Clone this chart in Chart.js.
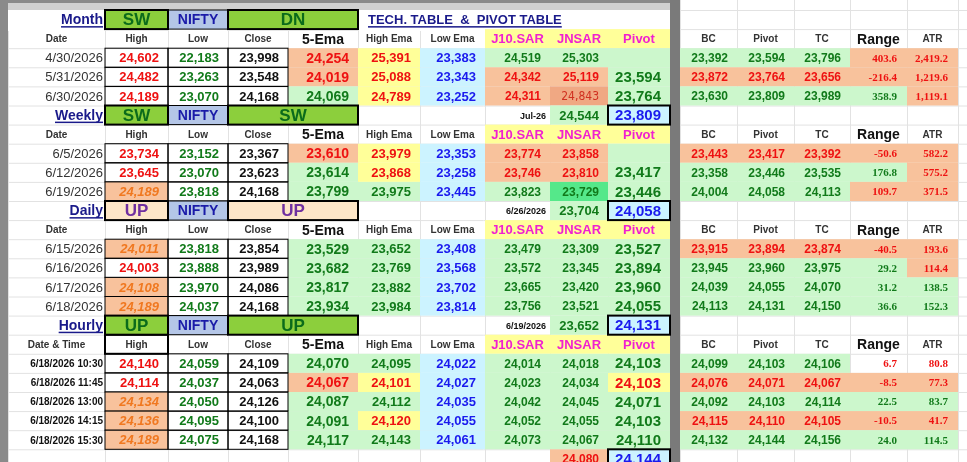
<!DOCTYPE html>
<html>
<head>
<meta charset="utf-8">
<script src="https://cdn.jsdelivr.net/npm/chart.js@4/dist/chart.umd.min.js"></script>
<style>
  html, body { margin: 0; padding: 0; background: #fff; }
  canvas { display: block; }
</style>
</head>
<body>
<canvas id="sheet" width="967" height="462"></canvas>
<script>
// column edges and row grid of the sheet (layout, in sheet units)
const colEdges = [8, 105, 168, 228, 288, 358, 420, 485, 550, 608, 670, 680, 737, 794, 850, 907, 958, 967];
const rowTop = 10, rowH = 19.1;

const headers = ['Date', 'High', 'Low', 'Close', '5-Ema', 'High Ema', 'Low Ema', 'J10.SAR', 'JNSAR', 'Pivot', '', 'BC', 'Pivot', 'TC', 'Range', 'ATR'];

// section banners: [row, label, trend, trendTag, side date, side value, pivot]
const sections = [
  [0, 'Month', 'SW', 'DN', '', '', ''],
  [5, 'Weekly', 'SW', 'SW', 'Jul-26', '24,544', '23,809'],
  [10, 'Daily', 'UP', 'UP', '6/26/2026', '23,704', '24,058'],
  [16, 'Hourly', 'UP', 'UP', '6/19/2026', '23,652', '24,131'],
];

const monthRows = [
  ['4/30/2026', '24,602', '22,183', '23,998', '24,254', '25,391', '23,383', '24,519', '25,303', '', '', '23,392', '23,594', '23,796', '403.6', '2,419.2'],
  ['5/31/2026', '24,482', '23,263', '23,548', '24,019', '25,088', '23,343', '24,342', '25,119', '23,594', '', '23,872', '23,764', '23,656', '-216.4', '1,219.6'],
  ['6/30/2026', '24,189', '23,070', '24,168', '24,069', '24,789', '23,252', '24,311', '24,843', '23,764', '', '23,630', '23,809', '23,989', '358.9', '1,119.1'],
];
const monthStyle = [
  ['k', 'r', 'g', 'k', 'ro', 'ry', 'bc', 'gl', 'gl', 'gl', '', 'gl', 'gl', 'gl', 'ro', 'ro'],
  ['k', 'r', 'g', 'k', 'ro', 'ry', 'bc', 'ro', 'ro', 'gl', '', 'ro', 'ro', 'ro', 'ro', 'ro'],
  ['k', 'r', 'g', 'k', 'gl', 'ry', 'bc', 'ro', 'dO', 'gl', '', 'gl', 'gl', 'gl', 'gl', 'ro'],
];

const weeklyRows = [
  ['6/5/2026', '23,734', '23,152', '23,367', '23,610', '23,979', '23,353', '23,774', '23,858', '', '', '23,443', '23,417', '23,392', '-50.6', '582.2'],
  ['6/12/2026', '23,645', '23,070', '23,623', '23,614', '23,868', '23,258', '23,746', '23,810', '23,417', '', '23,358', '23,446', '23,535', '176.8', '575.2'],
  ['6/19/2026', '24,189', '23,818', '24,168', '23,799', '23,975', '23,445', '23,823', '23,729', '23,446', '', '24,004', '24,058', '24,113', '109.7', '371.5'],
];
const weeklyStyle = [
  ['k', 'r', 'g', 'k', 'ro', 'ry', 'bc', 'ro', 'ro', 'gl', '', 'ro', 'ro', 'ro', 'ro', 'ro'],
  ['k', 'r', 'g', 'k', 'gl', 'ry', 'bc', 'ro', 'ro', 'gl', '', 'gl', 'gl', 'gl', 'gl', 'ro'],
  ['k', 'io', 'g', 'k', 'gl', 'gl', 'bc', 'gl', 'gG', 'gl', '', 'gl', 'gl', 'gl', 'ro', 'ro'],
];

const dailyRows = [
  ['6/15/2026', '24,011', '23,818', '23,854', '23,529', '23,652', '23,408', '23,479', '23,309', '23,527', '', '23,915', '23,894', '23,874', '-40.5', '193.6'],
  ['6/16/2026', '24,003', '23,888', '23,989', '23,682', '23,769', '23,568', '23,572', '23,345', '23,894', '', '23,945', '23,960', '23,975', '29.2', '114.4'],
  ['6/17/2026', '24,108', '23,970', '24,086', '23,817', '23,882', '23,702', '23,665', '23,420', '23,960', '', '24,039', '24,055', '24,070', '31.2', '138.5'],
  ['6/18/2026', '24,189', '24,037', '24,168', '23,934', '23,984', '23,814', '23,756', '23,521', '24,055', '', '24,113', '24,131', '24,150', '36.6', '152.3'],
];
const dailyStyle = [
  ['k', 'io', 'g', 'k', 'gl', 'gl', 'bc', 'gl', 'gl', 'gl', '', 'ro', 'ro', 'ro', 'ro', 'ro'],
  ['k', 'r', 'g', 'k', 'gl', 'gl', 'bc', 'gl', 'gl', 'gl', '', 'gl', 'gl', 'gl', 'gl', 'ro'],
  ['k', 'io', 'g', 'k', 'gl', 'gl', 'bc', 'gl', 'gl', 'gl', '', 'gl', 'gl', 'gl', 'gl', 'gl'],
  ['k', 'io', 'g', 'k', 'gl', 'gl', 'bc', 'gl', 'gl', 'gl', '', 'gl', 'gl', 'gl', 'gl', 'gl'],
];

const hourlyRows = [
  ['6/18/2026 10:30', '24,140', '24,059', '24,109', '24,070', '24,095', '24,022', '24,014', '24,018', '24,103', '', '24,099', '24,103', '24,106', '6.7', '80.8'],
  ['6/18/2026 11:45', '24,114', '24,037', '24,063', '24,067', '24,101', '24,027', '24,023', '24,034', '24,103', '', '24,076', '24,071', '24,067', '-8.5', '77.3'],
  ['6/18/2026 13:00', '24,134', '24,050', '24,126', '24,087', '24,112', '24,035', '24,042', '24,045', '24,071', '', '24,092', '24,103', '24,114', '22.5', '83.7'],
  ['6/18/2026 14:15', '24,136', '24,095', '24,100', '24,091', '24,120', '24,055', '24,052', '24,055', '24,103', '', '24,115', '24,110', '24,105', '-10.5', '41.7'],
  ['6/18/2026 15:30', '24,189', '24,075', '24,168', '24,117', '24,143', '24,061', '24,073', '24,067', '24,110', '', '24,132', '24,144', '24,156', '24.0', '114.5'],
];
const hourlyStyle = [
  ['k', 'r', 'g', 'k', 'gl', 'gl', 'bc', 'gl', 'gl', 'gl', '', 'gl', 'gl', 'gl', 'r', 'r'],
  ['k', 'r', 'g', 'k', 'ro', 'ry', 'bc', 'gl', 'gl', 'ry', '', 'ro', 'ro', 'ro', 'ro', 'ro'],
  ['k', 'io', 'g', 'k', 'gl', 'gl', 'bc', 'gl', 'gl', 'gl', '', 'gl', 'gl', 'gl', 'gl', 'gl'],
  ['k', 'io', 'g', 'k', 'gl', 'ry', 'bc', 'gl', 'gl', 'gl', '', 'ro', 'ro', 'ro', 'ro', 'ro'],
  ['k', 'io', 'g', 'k', 'gl', 'gl', 'bc', 'gl', 'gl', 'gl', '', 'gl', 'gl', 'gl', 'gl', 'gl'],
];
const lastRow = ['24,080', '24,144'];

// [first data row, values, styles]
const blocks = [[2, monthRows, monthStyle], [7, weeklyRows, weeklyStyle], [12, dailyRows, dailyStyle], [18, hourlyRows, hourlyStyle]];
const headerRows = [1, 6, 11, 17];

const FG = { r: '#ee1111', g: '#117a1a', k: '#111', b: '#1a1aee', i: '#f07820', d: '#d03020' };
const BG = { o: '#f8c29c', l: '#ccf7cc', y: '#ffff99', c: '#ccf3ff', G: '#55e88a', O: '#f0a883' };

const sheetPlugin = {
  id: 'sheet',
  afterDraw(chart) {
    const c = chart.ctx, sx = chart.scales.x, sy = chart.scales.y;
    const X = v => sx.getPixelForValue(v), Y = v => sy.getPixelForValue(v);
    const cx = i => X(colEdges[i]), ry = r => Y(rowTop + r * rowH);
    const rect = (c0, c1, r0, r1, fill) => { c.fillStyle = fill; c.fillRect(cx(c0), ry(r0), cx(c1) - cx(c0), ry(r1) - ry(r0)); };
    const box = (c0, c1, r0, r1, w) => { c.strokeStyle = '#000'; c.lineWidth = w; c.strokeRect(cx(c0), ry(r0), cx(c1) - cx(c0), ry(r1) - ry(r0)); };
    const text = (s, c0, c1, r, font, color, align, pad = 6) => {
      c.font = font; c.fillStyle = color; c.textBaseline = 'middle'; c.textAlign = align;
      const x = align === 'right' ? cx(c1) - pad : align === 'left' ? cx(c0) + pad : (cx(c0) + cx(c1)) / 2;
      c.fillText(s, x, ry(r + 0.5) + 1);
      return x;
    };
    c.save();
    // frame
    c.fillStyle = '#fff'; c.fillRect(0, 0, 967, 462);
    c.strokeStyle = '#e2e2e2'; c.lineWidth = 1;
    colEdges.forEach(e => { c.beginPath(); c.moveTo(X(e) + 0.5, 0); c.lineTo(X(e) + 0.5, 462); c.stroke(); });
    for (let r = 0; r <= 24; r++) { c.beginPath(); c.moveTo(0, ry(r) + 0.5); c.lineTo(967, ry(r) + 0.5); c.stroke(); }
    c.fillStyle = '#8a8a8a'; c.fillRect(0, 0, X(8), 462); c.fillRect(0, 0, X(670), Y(3));
    c.fillStyle = '#d0d0d0'; c.fillRect(X(8), Y(3), X(670) - X(8), Y(10) - Y(3));
    c.fillStyle = '#fff'; c.fillRect(X(8), Y(10), X(670) - X(8), Y(31) - Y(10));
    c.fillStyle = '#7a7a7a'; c.fillRect(X(670), 0, X(680) - X(670), 462);

    // header rows
    headerRows.forEach(r => {
      rect(7, 10, r, r + 1, '#ffff99');
      headers.forEach((h, i) => {
        if (!h) return;
        let font = 'bold 10px "Liberation Sans"', col = '#333';
        if (i === 4 || i === 14) { font = 'bold 14px "Liberation Sans"'; col = '#111'; }
        if (i >= 7 && i <= 9) { font = 'bold 13px "Liberation Sans"'; col = '#f020d0'; }
        const label = (r === 17 && i === 0) ? 'Date & Time' : h;
        text(label, i, i + 1, r, font, col, 'center');
      });
    });
    box(1, 2, 17, 18, 2);

    // data blocks
    blocks.forEach(([r0, rows, styles]) => {
      rows.forEach((row, j) => {
        const r = r0 + j;
        row.forEach((v, i) => {
          const st = styles[j][i];
          if (st.length > 1) rect(i, i + 1, r, r + 1, BG[st[1]]);
        });
        box(1, 2, r, r + 1, 1); box(2, 3, r, r + 1, 1); box(3, 4, r, r + 1, 1);
        row.forEach((v, i) => {
          if (!v) return;
          const st = styles[j][i];
          const color = FG[st[0]];
          let font = 'bold 13px "Liberation Sans"';
          if (i === 0) {
            if (r0 === 18) { text(v, 0, 1, r, 'bold 10px "Liberation Sans"', '#111', 'right', 2); return; }
            text(v, 0, 1, r, '13px "Liberation Sans"', '#333', 'right', 2); return;
          }
          if (i === 4) font = 'bold 14px "Liberation Sans"';
          if (st[0] === 'i') font = 'italic bold 13px "Liberation Sans"';
          if (st[0] === 'd') font = '12px "DejaVu Sans Condensed"';
          if (i === 9) font = 'bold 15px "Liberation Sans"';
          if (i >= 7 && i <= 8 && st[0] !== 'd') font = 'bold 12px "Liberation Sans"';
          if (i >= 11 && i <= 13) font = 'bold 12px "Liberation Sans"';
          if (i >= 14) font = 'bold 11px "Liberation Serif"';
          text(v, i, i + 1, r, font, color, 'right', i >= 14 ? 10 : 9);
        });
      });
    });

    // section banners
    sections.forEach(([r, label, trend, tag, sideDate, sideVal, pivot]) => {
      const up = r === 10;
      const trendBg = up ? '#fde6c8' : '#8ccf3c', trendFg = up ? '#7030a0' : '#0b6b1b';
      rect(1, 2, r, r + 1, trendBg); rect(2, 3, r, r + 1, '#b4c6e7'); rect(3, 5, r, r + 1, trendBg);
      box(1, 2, r, r + 1, 2); box(2, 3, r, r + 1, 1); box(3, 5, r, r + 1, 2);
      const x = text(label, 0, 1, r, 'bold 14px "Liberation Sans"', '#1a1a8a', 'right', 2);
      const w = c.measureText(label).width;
      c.fillRect(x - w, ry(r + 1) - 3, w, 1.5);
      text(trend, 1, 2, r, 'bold 17px "Liberation Sans"', trendFg, 'center');
      text('NIFTY', 2, 3, r, 'bold 14px "Liberation Sans"', '#1a1aa8', 'center');
      text(tag, 3, 5, r, 'bold 17px "Liberation Sans"', trendFg, 'center');
      if (pivot) {
        rect(8, 9, r, r + 1, BG.l); rect(9, 10, r, r + 1, BG.c);
        box(9, 10, r, r + 1, 2);
        text(sideDate, 7, 8, r, 'bold 9px "Liberation Sans"', '#111', 'right', 4);
        text(sideVal, 8, 9, r, 'bold 13px "Liberation Sans"', FG.g, 'right', 9);
        text(pivot, 9, 10, r, 'bold 15px "Liberation Sans"', FG.b, 'right', 9);
      }
    });
    const tx = text('TECH. TABLE  &  PIVOT TABLE', 5, 9, 0, 'bold 13px "Liberation Sans"', '#1a1a8a', 'left', 10);
    c.fillRect(tx, ry(1) - 3, c.measureText('TECH. TABLE  &  PIVOT TABLE').width, 1.5);

    // trailing row
    rect(8, 9, 23, 24, BG.o); rect(9, 10, 23, 24, BG.c); box(9, 10, 23, 24, 2);
    text(lastRow[0], 8, 9, 23, 'bold 12px "Liberation Sans"', FG.r, 'right', 9);
    text(lastRow[1], 9, 10, 23, 'bold 15px "Liberation Sans"', FG.b, 'right', 9);
    c.restore();
  }
};

new Chart(document.getElementById('sheet').getContext('2d'), {
  type: 'scatter',
  data: { datasets: [{ data: [], pointRadius: 0 }] },
  options: {
    responsive: false,
    animation: false,
    layout: { padding: 0 },
    plugins: { legend: { display: false }, tooltip: { enabled: false } },
    scales: {
      x: { type: 'linear', min: 0, max: 967, display: false },
      y: { type: 'linear', min: 0, max: 462, reverse: true, display: false },
    },
  },
  plugins: [sheetPlugin],
});
</script>
</body>
</html>
